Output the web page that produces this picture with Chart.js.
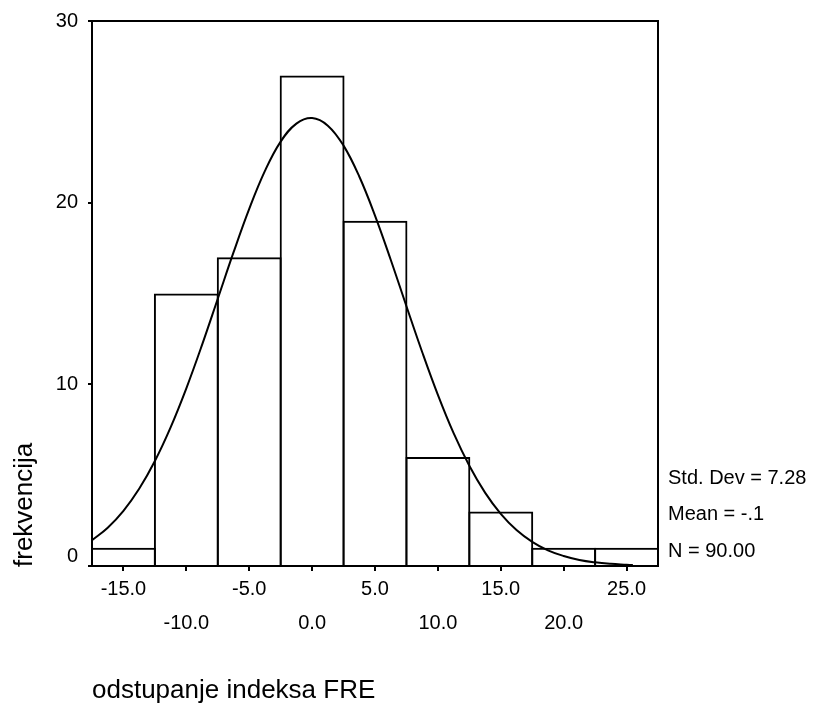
<!DOCTYPE html>
<html>
<head>
<meta charset="utf-8">
<script src="https://cdn.jsdelivr.net/npm/chart.js@4.4.1/dist/chart.umd.min.js"></script>
<style>
  html, body { margin: 0; padding: 0; background: #fff; }
  #wrap { width: 815px; height: 704px; }
</style>
</head>
<body>
<div id="wrap"><canvas id="c" width="815" height="704"></canvas></div>
<script>
// ---- data ----
const binCenters = [-15, -10, -5, 0, 5, 10, 15, 20, 25];
const binCounts  = [1, 15, 17, 27, 19, 6, 3, 1, 1];
const curveX = [-17.5, -16.25, -15, -13.75, -12.5, -11.25, -10, -8.75, -7.5, -6.25, -5, -3.75, -2.5, -1.25, 0,
                1.25, 2.5, 3.75, 5, 6.25, 7.5, 8.75, 10, 11.25, 12.5, 13.75, 15, 16.25, 17.5, 18.75, 20, 21.25, 22.5, 23.75, 25, 25.5];
const curveY = [1.42, 2.11, 3.04, 4.25, 5.78, 7.63, 9.78, 12.17, 14.71, 17.26, 19.66, 21.75, 23.36, 24.35, 24.66,
                24.24, 23.14, 21.44, 19.29, 16.86, 14.30, 11.78, 9.42, 7.31, 5.52, 4.04, 2.87, 1.98, 1.33, 0.86, 0.55, 0.33, 0.20, 0.12, 0.07, 0.05];
const xTickValues = [-15, -10, -5, 0, 5, 10, 15, 20, 25];
const xTickLabels = ['-15.0', '-10.0', '-5.0', '0.0', '5.0', '10.0', '15.0', '20.0', '25.0'];
const yTickValues = [0, 10, 20, 30];
const yTickLabels = ['0', '10', '20', '30'];
const statLines = ['Std. Dev = 7.28', 'Mean = -.1', 'N = 90.00'];
const xTitle = 'odstupanje indeksa FRE';
const yTitle = 'frekvencija';

const FONT = '"Liberation Sans", Arial, sans-serif';

const barData = binCenters.map((x, i) => ({ x: x, y: binCounts[i] }));
const lineData = curveX.map((x, i) => ({ x: x, y: curveY[i] }));

const framePlugin = {
  id: 'frame',
  afterDatasetsDraw(chart) {
    const { ctx, chartArea: a } = chart;
    ctx.save();
    ctx.strokeStyle = '#000';
    ctx.lineWidth = 2;
    ctx.beginPath();
    ctx.moveTo(a.left, a.top);
    ctx.lineTo(a.right, a.top);
    ctx.lineTo(a.right, a.bottom);
    ctx.stroke();
    ctx.restore();
  },
  afterDraw(chart) {
    const { ctx, chartArea: a } = chart;
    ctx.save();
    ctx.fillStyle = '#000';
    ctx.textBaseline = 'alphabetic';
    ctx.textAlign = 'left';
    ctx.font = '20px ' + FONT;
    const baseY = [484, 520, 557];
    statLines.forEach((t, i) => ctx.fillText(t, a.right + 10, baseY[i]));
    ctx.font = '26px ' + FONT;
    ctx.fillText(xTitle, a.left, 698);
    ctx.translate(32, a.bottom + 1);
    ctx.rotate(-Math.PI / 2);
    ctx.fillText(yTitle, 0, 0);
    ctx.restore();
  }
};

new Chart(document.getElementById('c'), {
  type: 'bar',
  data: {
    datasets: [
      {
        type: 'line',
        data: lineData,
        borderColor: '#000',
        borderWidth: 2,
        pointRadius: 0,
        fill: false,
        tension: 0.4,
        order: 0
      },
      {
        type: 'bar',
        data: barData,
        backgroundColor: 'rgba(0,0,0,0)',
        borderColor: '#000',
        borderWidth: { top: 2, left: 2, right: 2, bottom: 0 },
        borderSkipped: false,
        barPercentage: 1.032,
        categoryPercentage: 1,
        grouped: false,
        order: 1
      }
    ]
  },
  options: {
    responsive: false,
    animation: false,
    layout: { padding: { left: 0, top: 21, right: 157, bottom: 0 } },
    plugins: { legend: { display: false }, tooltip: { enabled: false } },
    scales: {
      x: {
        type: 'linear',
        offset: false,
        min: -17.5,
        max: 27.5,
        afterBuildTicks(scale) { scale.ticks = xTickValues.map(v => ({ value: v })); },
        afterFit(scale) { scale.height = 138; },
        grid: { display: true, offset: false, drawOnChartArea: false, drawTicks: true, tickLength: 5, color: '#000', lineWidth: 2 },
        border: { display: true, color: '#000', width: 2 },
        ticks: {
          autoSkip: false,
          maxRotation: 0,
          minRotation: 0,
          padding: 1,
          color: '#000',
          font: { family: FONT, size: 20, lineHeight: 1.7 },
          callback(value) {
            const i = xTickValues.indexOf(value);
            const lbl = xTickLabels[i];
            return i % 2 === 0 ? [lbl] : ['', lbl];
          }
        }
      },
      y: {
        type: 'linear',
        min: 0,
        max: 30,
        afterBuildTicks(scale) { scale.ticks = yTickValues.map(v => ({ value: v })); },
        afterFit(scale) { scale.width = 92; },
        grid: { display: true, drawOnChartArea: false, drawTicks: true, tickLength: 4, color: '#000', lineWidth: 2 },
        border: { display: true, color: '#000', width: 2 },
        ticks: {
          padding: 10,
          color: '#000',
          font: { family: FONT, size: 20, lineHeight: 1 },
          callback(value) {
            const lbl = yTickLabels[yTickValues.indexOf(value)];
            return value === 0 ? [lbl, ''] : lbl;
          }
        }
      }
    }
  },
  plugins: [framePlugin]
});
</script>
</body>
</html>
